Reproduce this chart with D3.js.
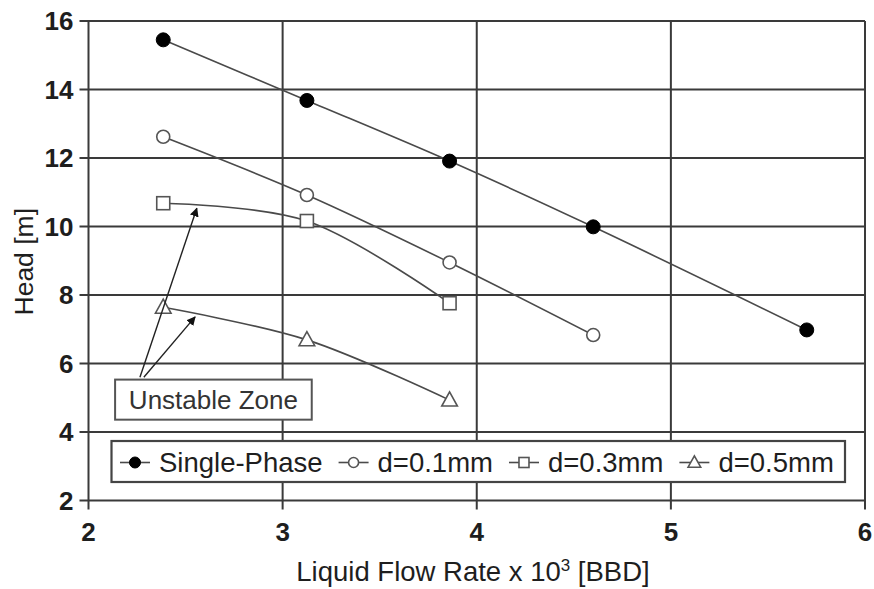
<!DOCTYPE html>
<html>
<head>
<meta charset="utf-8">
<script src="https://cdn.jsdelivr.net/npm/d3@7/dist/d3.min.js"></script>
<style>
  html, body { margin: 0; padding: 0; background: #fff; }
  svg { display: block; font-family: "Liberation Sans", Arial, sans-serif; }
</style>
</head>
<body>
<svg id="chart" width="874" height="589"></svg>
<script>
// ---------------- data ----------------
const flowRates = [2.385, 3.125, 3.86, 4.6, 5.70];
const singlePhase = [15.45, 13.68, 11.91, 9.99, 6.98];
const d01 = [12.62, 10.92, 8.95, 6.83];
const d03 = [10.68, 10.16, 7.76];
const d05 = [7.64, 6.69, 4.93];
const seriesNames = ["Single-Phase", "d=0.1mm", "d=0.3mm", "d=0.5mm"];
const seriesValues = [singlePhase, d01, d03, d05];
const seriesMarkers = ["filledCircle", "circle", "square", "triangle"];
const xTicks = [2, 3, 4, 5, 6];
const yTicks = [2, 4, 6, 8, 10, 12, 14, 16];
const xTitle = "Liquid Flow Rate x 10";
const xTitleSup = "3";
const xTitleEnd = " [BBD]";
const yTitle = "Head [m]";
const annotationText = "Unstable Zone";
// annotation geometry in data units
const annotationBox = { x0: 2.137, x1: 3.15, y0: 4.36, y1: 5.53 };
const arrowStarts = [[2.265, 5.6], [2.285, 5.6]];
const arrowTips = [[2.558, 10.53], [2.549, 7.36]];

// ---------------- layout ----------------
const svg = d3.select("#chart");
const x = d3.scaleLinear().domain([2, 6]).range([88.5, 865]);
const y = d3.scaleLinear().domain([2, 16]).range([500.5, 21]);
const gridColor = "#3a3a3a";
const textColor = "#1e1e1e";
const lineColor = "#4a4a4a";

// grid
const grid = svg.append("g");
grid.selectAll("line.gy").data(yTicks).join("line")
  .attr("x1", x(2) - 9).attr("x2", x(6))
  .attr("y1", d => y(d)).attr("y2", d => y(d))
  .attr("stroke", gridColor).attr("stroke-width", 2);
grid.selectAll("line.gx").data(xTicks).join("line")
  .attr("x1", d => x(d)).attr("x2", d => x(d))
  .attr("y1", y(16)).attr("y2", y(2) + 9)
  .attr("stroke", gridColor).attr("stroke-width", 2);

// tick labels
svg.append("g").selectAll("text").data(yTicks).join("text")
  .attr("x", x(2) - 15).attr("y", d => y(d))
  .attr("dy", "0.36em")
  .attr("text-anchor", "end")
  .attr("font-size", 26).attr("font-weight", "bold")
  .attr("fill", textColor)
  .text(d => d);
svg.append("g").selectAll("text").data(xTicks).join("text")
  .attr("x", d => x(d)).attr("y", 541)
  .attr("text-anchor", "middle")
  .attr("font-size", 26).attr("font-weight", "bold")
  .attr("fill", textColor)
  .text(d => d);

// axis titles
const xt = svg.append("text")
  .attr("x", 473).attr("y", 581)
  .attr("text-anchor", "middle")
  .attr("font-size", 27.5)
  .attr("fill", textColor);
xt.append("tspan").text(xTitle);
xt.append("tspan").attr("font-size", 17).attr("dy", -10).text(xTitleSup);
xt.append("tspan").attr("dy", 10).text(xTitleEnd);

svg.append("text")
  .attr("transform", `translate(33,${(y(2) + y(16)) / 2 + 1}) rotate(-90)`)
  .attr("text-anchor", "middle")
  .attr("font-size", 26.5)
  .attr("fill", textColor)
  .text(yTitle);

// ---------------- series ----------------
const line = d3.line()
  .x((d, i) => x(flowRates[i]))
  .y(d => y(d))
  .curve(d3.curveCatmullRom.alpha(0.5));

const plot = svg.append("g");
seriesValues.forEach(vals => {
  plot.append("path")
    .attr("d", line(vals))
    .attr("fill", "none")
    .attr("stroke", lineColor)
    .attr("stroke-width", 1.6);
});

function drawMarker(g, type, cx, cy, s) {
  if (type === "filledCircle") {
    g.append("circle").attr("cx", cx).attr("cy", cy).attr("r", s)
      .attr("fill", "#000").attr("stroke", "#000").attr("stroke-width", 1);
  } else if (type === "circle") {
    g.append("circle").attr("cx", cx).attr("cy", cy).attr("r", s - 0.5)
      .attr("fill", "#fff").attr("stroke", "#555").attr("stroke-width", 1.6);
  } else if (type === "square") {
    const h = s - 0.5;
    g.append("rect").attr("x", cx - h).attr("y", cy - h)
      .attr("width", 2 * h).attr("height", 2 * h)
      .attr("fill", "#fff").attr("stroke", "#555").attr("stroke-width", 1.6);
  } else if (type === "triangle") {
    const h = s + 0.8;
    const pts = [[cx, cy - h * 1.05], [cx - h, cy + h * 0.75], [cx + h, cy + h * 0.75]];
    g.append("polygon").attr("points", pts.map(p => p.join(",")).join(" "))
      .attr("fill", "#fff").attr("stroke", "#555").attr("stroke-width", 1.6);
  }
}

seriesValues.forEach((vals, si) => {
  vals.forEach((v, i) => drawMarker(plot, seriesMarkers[si], x(flowRates[i]), y(v), 7));
});

// ---------------- annotation ----------------
const defs = svg.append("defs");
defs.append("marker").attr("id", "arrow")
  .attr("viewBox", "0 0 10 10").attr("refX", 9).attr("refY", 5)
  .attr("markerWidth", 9).attr("markerHeight", 9)
  .attr("markerUnits", "userSpaceOnUse")
  .attr("orient", "auto")
  .append("path").attr("d", "M0,0 L10,5 L0,10 z").attr("fill", "#111");

arrowStarts.forEach((s, i) => {
  svg.append("line")
    .attr("x1", x(s[0])).attr("y1", y(s[1]))
    .attr("x2", x(arrowTips[i][0])).attr("y2", y(arrowTips[i][1]))
    .attr("stroke", "#222").attr("stroke-width", 1.4)
    .attr("marker-end", "url(#arrow)");
});

svg.append("rect")
  .attr("x", x(annotationBox.x0)).attr("y", y(annotationBox.y1))
  .attr("width", x(annotationBox.x1) - x(annotationBox.x0))
  .attr("height", y(annotationBox.y0) - y(annotationBox.y1))
  .attr("fill", "#fff").attr("stroke", "#555").attr("stroke-width", 2);
svg.append("text")
  .attr("x", (x(annotationBox.x0) + x(annotationBox.x1)) / 2)
  .attr("y", (y(annotationBox.y0) + y(annotationBox.y1)) / 2)
  .attr("dy", "0.36em")
  .attr("text-anchor", "middle")
  .attr("font-size", 26)
  .attr("fill", "#333")
  .text(annotationText);

// ---------------- legend ----------------
const lg = svg.append("g");
const lgBox = lg.append("rect")
  .attr("x", 111.5).attr("y", 441)
  .attr("width", 733.5).attr("height", 41)
  .attr("fill", "#fff").attr("stroke", "#444").attr("stroke-width", 2.2);
let cursor = 120;
const ly = 462.5;
seriesNames.forEach((name, i) => {
  lg.append("line").attr("x1", cursor).attr("x2", cursor + 30)
    .attr("y1", ly).attr("y2", ly)
    .attr("stroke", lineColor).attr("stroke-width", 1.6);
  drawMarker(lg, seriesMarkers[i], cursor + 15, ly, 5.5);
  const t = lg.append("text")
    .attr("x", cursor + 39).attr("y", ly).attr("dy", "0.36em")
    .attr("font-size", 27.5).attr("fill", textColor)
    .text(name);
  cursor = cursor + 39 + t.node().getComputedTextLength() + 16;
});
</script>
</body>
</html>
